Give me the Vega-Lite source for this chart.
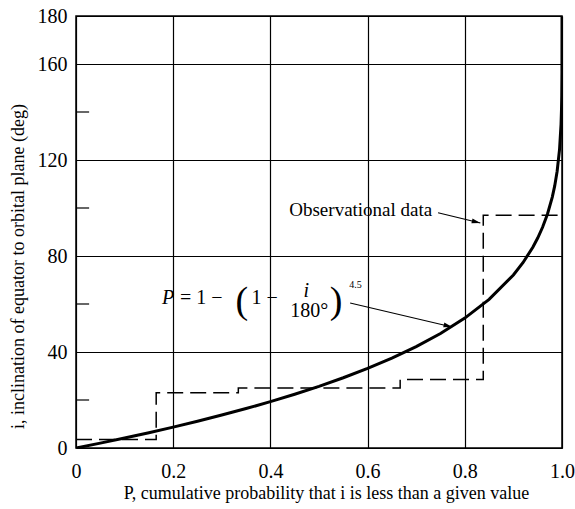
{
  "$schema": "https://vega.github.io/schema/vega-lite/v6.json",
  "width": 486,
  "height": 432,
  "autosize": {"type": "none"},
  "padding": {"left": 76, "top": 16, "right": 13, "bottom": 61},
  "config": {
    "view": {"stroke": "black", "strokeWidth": 1.5},
    "font": "Liberation Serif",
    "text": {"font": "Liberation Serif", "color": "black"}
  },
  "datasets": {
    "curve": [
      {"P": 0, "i": 0}, {"P": 0.05, "i": 2.04}, {"P": 0.1, "i": 4.17}, {"P": 0.15, "i": 6.38},
      {"P": 0.2, "i": 8.71}, {"P": 0.25, "i": 11.15}, {"P": 0.3, "i": 13.72}, {"P": 0.35, "i": 16.43},
      {"P": 0.4, "i": 19.31}, {"P": 0.45, "i": 22.39}, {"P": 0.5, "i": 25.7}, {"P": 0.55, "i": 29.27},
      {"P": 0.6, "i": 33.16}, {"P": 0.65, "i": 37.45}, {"P": 0.7, "i": 42.25}, {"P": 0.75, "i": 47.72},
      {"P": 0.8, "i": 54.12}, {"P": 0.85, "i": 61.92}, {"P": 0.9, "i": 72.09}, {"P": 0.92, "i": 77.31},
      {"P": 0.94, "i": 83.67}, {"P": 0.95, "i": 87.5}, {"P": 0.96, "i": 91.97}, {"P": 0.97, "i": 97.42},
      {"P": 0.98, "i": 104.54}, {"P": 0.985, "i": 109.21}, {"P": 0.99, "i": 115.31}, {"P": 0.995, "i": 124.55},
      {"P": 0.998, "i": 134.76}, {"P": 0.999, "i": 141.22}, {"P": 0.9995, "i": 146.76}, {"P": 0.9999, "i": 156.76},
      {"P": 1.0, "i": 180}
    ],
    "observed": [
      {"k": 1, "P": 0, "i": 3.5}, {"k": 2, "P": 0.165, "i": 3.5}, {"k": 3, "P": 0.165, "i": 23},
      {"k": 4, "P": 0.334, "i": 23}, {"k": 5, "P": 0.334, "i": 25}, {"k": 6, "P": 0.667, "i": 25},
      {"k": 7, "P": 0.667, "i": 28.5}, {"k": 8, "P": 0.838, "i": 28.5}, {"k": 9, "P": 0.838, "i": 97},
      {"k": 10, "P": 1.0, "i": 97}
    ],
    "minor": [{"P": 0, "P2": 0.027, "i": 20}, {"P": 0, "P2": 0.027, "i": 60}, {"P": 0, "P2": 0.027, "i": 100}, {"P": 0, "P2": 0.027, "i": 140}],
    "arrows": [
      {"P": 0.745, "i": 98.0, "P2": 0.832, "i2": 93.75},
      {"P": 0.564, "i": 60.4, "P2": 0.774, "i2": 50.4}
    ],
    "labels": [{"P": 0.733, "i": 99.2, "t": "Observational data"}],
    "italic": [{"P": 0.177, "i": 62.5, "t": "P"}, {"P": 0.468, "i": 65.5, "t": "i"}],
    "normal": [{"P": 0.214, "i": 62.5, "t": "= 1 −"}, {"P": 0.361, "i": 62.5, "t": "1 −"}, {"P": 0.441, "i": 57.0, "t": "180°"}],
    "parens": [{"P": 0.341, "i": 60.8, "t": "("}, {"P": 0.535, "i": 60.8, "t": ")"}],
    "sup": [{"P": 0.562, "i": 67.9, "t": "4.5"}]
  },
  "layer": [
    {
      "data": {"name": "curve"},
      "mark": {"type": "line", "color": "black", "strokeWidth": 3, "clip": true},
      "encoding": {
        "x": {
          "field": "P", "type": "quantitative",
          "scale": {"domain": [0, 1], "nice": false},
          "axis": {
            "values": [0, 0.2, 0.4, 0.6, 0.8, 1.0],
            "labelExpr": "datum.value == 0 ? '0' : format(datum.value, '.1f')",
            "grid": true, "gridColor": "black", "gridOpacity": 1, "gridWidth": 1.2,
            "ticks": false, "domain": false,
            "labelFont": "Liberation Serif", "labelFontSize": 20, "labelColor": "black", "labelPadding": 13,
            "labelFlush": false,
            "title": "P, cumulative probability that i is less than a given value",
            "titleFont": "Liberation Serif", "titleFontSize": 18, "titleFontWeight": "normal", "titleColor": "black",
            "titleX": 250, "titleY": 45, "titleBaseline": "middle", "titleAlign": "center"
          }
        },
        "y": {
          "field": "i", "type": "quantitative",
          "scale": {"domain": [0, 180], "nice": false},
          "axis": {
            "values": [0, 40, 80, 120, 160, 180],
            "grid": true, "gridColor": "black", "gridOpacity": 1, "gridWidth": 1.2,
            "ticks": false, "domain": false,
            "labelFont": "Liberation Serif", "labelFontSize": 20, "labelColor": "black", "labelPadding": 9,
            "labelFlush": false,
            "title": "i, inclination of equator to orbital plane (deg)",
            "titleFont": "Liberation Serif", "titleFontSize": 18, "titleFontWeight": "normal", "titleColor": "black",
            "titleAngle": -90, "titleX": -58, "titleY": 250, "titleBaseline": "middle", "titleAlign": "center"
          }
        }
      }
    },
    {
      "data": {"name": "observed"},
      "mark": {"type": "line", "color": "black", "strokeWidth": 1.5, "strokeDash": [16, 7]},
      "encoding": {
        "x": {"field": "P", "type": "quantitative"},
        "y": {"field": "i", "type": "quantitative"},
        "order": {"field": "k", "type": "quantitative"}
      }
    },
    {
      "data": {"name": "minor"},
      "mark": {"type": "rule", "color": "black", "strokeWidth": 1.2},
      "encoding": {
        "x": {"field": "P", "type": "quantitative"},
        "x2": {"field": "P2"},
        "y": {"field": "i", "type": "quantitative"}
      }
    },
    {
      "data": {"name": "arrows"},
      "mark": {"type": "rule", "color": "black", "strokeWidth": 1.1},
      "encoding": {
        "x": {"field": "P", "type": "quantitative"},
        "x2": {"field": "P2"},
        "y": {"field": "i", "type": "quantitative"},
        "y2": {"field": "i2"}
      }
    },
    {
      "data": {"name": "arrows"},
      "mark": {"type": "point", "shape": "M0,0 L-1,-0.28 L-1,0.28 Z", "filled": true, "color": "black", "opacity": 1, "size": 300, "angle": 14},
      "encoding": {
        "x": {"field": "P2", "type": "quantitative"},
        "y": {"field": "i2", "type": "quantitative"}
      }
    },
    {
      "data": {"name": "labels"},
      "mark": {"type": "text", "align": "right", "baseline": "middle", "fontSize": 19},
      "encoding": {
        "x": {"field": "P", "type": "quantitative"},
        "y": {"field": "i", "type": "quantitative"},
        "text": {"field": "t"}
      }
    },
    {
      "data": {"name": "italic"},
      "mark": {"type": "text", "align": "left", "baseline": "middle", "fontSize": 20, "fontStyle": "italic"},
      "encoding": {
        "x": {"field": "P", "type": "quantitative"},
        "y": {"field": "i", "type": "quantitative"},
        "text": {"field": "t"}
      }
    },
    {
      "data": {"name": "normal"},
      "mark": {"type": "text", "align": "left", "baseline": "middle", "fontSize": 20},
      "encoding": {
        "x": {"field": "P", "type": "quantitative"},
        "y": {"field": "i", "type": "quantitative"},
        "text": {"field": "t"}
      }
    },
    {
      "data": {"name": "parens"},
      "mark": {"type": "text", "align": "center", "baseline": "middle", "fontSize": 38, "font": "Liberation Serif"},
      "encoding": {
        "x": {"field": "P", "type": "quantitative"},
        "y": {"field": "i", "type": "quantitative"},
        "text": {"field": "t"}
      }
    },
    {
      "data": {"name": "sup"},
      "mark": {"type": "text", "align": "left", "baseline": "middle", "fontSize": 10},
      "encoding": {
        "x": {"field": "P", "type": "quantitative"},
        "y": {"field": "i", "type": "quantitative"},
        "text": {"field": "t"}
      }
    }
  ]
}
